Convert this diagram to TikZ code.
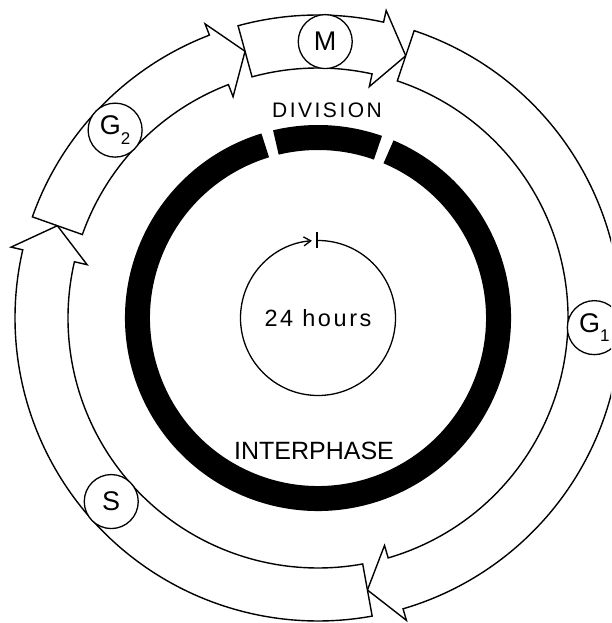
\documentclass[tikz,border=0pt]{standalone}
\usepackage{fontspec}
\setmainfont{Liberation Sans}
\usetikzlibrary{arrows.meta}
\newcommand\phasearrow[3]{%
  \draw[band] (#1:303pt) arc[start angle=#1, end angle=#2, radius=303pt]
    -- (#2:315pt) -- (#3:276.5pt) -- (#2:237pt) -- (#2:250pt)
    arc[start angle=#2, end angle=#1, radius=250pt] -- cycle;}
\begin{document}
\begin{tikzpicture}[x=1pt,y=1pt,
  band/.style={draw=black, line width=1.4pt, fill=white, line join=miter},
  tag/.style={circle, draw=black, line width=1.3pt, fill=white, minimum size=54pt,
    inner sep=0pt, font=\fontsize{27}{27}\selectfont},
  capt/.style={inner sep=0pt, anchor=center}]
\clip (0,0) rectangle (611,623);
\fill[white] (0,0) rectangle (611,623);
\begin{scope}[shift={(318,305)}]
  % outer cycle of phases
  \phasearrow{105.3}{77.5}{71.5}
  \phasearrow{71.5}{-73.7}{-79.7}
  \phasearrow{-79.7}{-193}{-199.5}
  \phasearrow{160.5}{111}{105.3}
  % phase tags
  \node[tag] (m)  at (88.5:276.5pt) {M};
  \node[tag] (g1) at (-2:276.5pt) {G\raisebox{-0.35em}{\fontsize{17}{17}\selectfont 1}};
  \node[tag] (s)  at (221.6:276.5pt) {S};
  \node[tag] (g2) at (137.2:276.5pt) {G\raisebox{-0.35em}{\fontsize{17}{17}\selectfont 2}};
  % black ring
  \draw[line width=25pt] (67:180.5pt) arc[start angle=67, end angle=-253, radius=180.5pt];
  \draw[line width=25pt] (70.6:180.5pt) arc[start angle=70.6, end angle=103.5, radius=180.5pt];
  % 24 hour clock
  \draw[line width=1.3pt, -{Straight Barb[length=7pt,width=9pt,line width=1.3pt]}]
    (90:77.5pt) arc[start angle=90, end angle=-265.5, radius=77.5pt];
  \draw[line width=1.6pt] (-1,70) -- (-1,86);
  % captions
  \node[capt, font=\fontsize{21}{21}\selectfont\addfontfeature{LetterSpace=12}] (div) at (9,208) {DIVISION};
  \node[capt, font=\fontsize{25}{25}\selectfont] (inter) at (-4,-133) {INTERPHASE};
  \node[capt, font=\fontsize{23.5}{23.5}\selectfont\addfontfeature{LetterSpace=11}] (hours) at (0,0) {24 hours};
\end{scope}
\end{tikzpicture}
\end{document}
